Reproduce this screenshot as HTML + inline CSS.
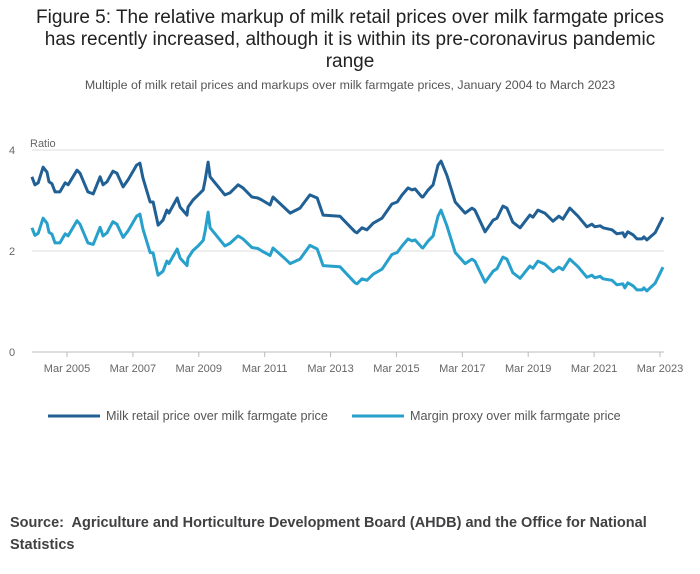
<!DOCTYPE html>
<html><head><meta charset="utf-8"><style>
body{margin:0;background:#fff;font-family:"Liberation Sans",sans-serif;}
#wrap{position:relative;width:700px;height:574px;overflow:hidden;}
.t{position:absolute;left:0;width:700px;text-align:center;color:#222;font-size:19px;}
</style></head><body>
<div id="wrap">
<div class="t" style="top:7px">Figure 5: The relative markup of milk retail prices over milk farmgate prices<br>has recently increased, although it is within its pre-coronavirus pandemic<br>range</div>
<div style="position:absolute;top:78px;left:0;width:700px;text-align:center;font-size:12.4px;color:#555">Multiple of milk retail prices and markups over milk farmgate prices, January 2004 to March 2023</div>
<svg id="chart" width="700" height="460" style="position:absolute;top:0;left:0"></svg>
<div style="position:absolute;left:10px;top:512px;font-size:14.5px;font-weight:bold;color:#414042;line-height:22px">Source:&nbsp; Agriculture and Horticulture Development Board (AHDB) and the Office for National<br>Statistics</div>
</div>
<script>
const dates=[2004.10,2004.19,2004.29,2004.44,2004.56,2004.62,2004.71,2004.80,2004.95,2005.11,2005.20,2005.47,2005.56,2005.80,2005.96,2006.17,2006.26,2006.38,2006.56,2006.68,2006.87,2007.02,2007.28,2007.38,2007.47,2007.69,2007.78,2007.90,2007.93,2008.08,2008.20,2008.26,2008.51,2008.60,2008.81,2008.84,2008.99,2009.15,2009.30,2009.36,2009.45,2009.51,2009.66,2009.96,2010.11,2010.36,2010.51,2010.78,2010.96,2011.08,2011.33,2011.42,2011.78,2011.94,2012.24,2012.54,2012.76,2012.94,2013.45,2013.91,2013.97,2014.12,2014.27,2014.46,2014.73,2015.03,2015.19,2015.34,2015.52,2015.64,2015.73,2015.94,2015.97,2016.13,2016.28,2016.43,2016.52,2016.70,2016.95,2017.25,2017.46,2017.55,2017.86,2018.10,2018.22,2018.40,2018.52,2018.70,2018.92,2019.22,2019.31,2019.46,2019.67,2019.92,2020.10,2020.22,2020.43,2020.68,2020.95,2021.10,2021.19,2021.35,2021.44,2021.71,2021.86,2022.04,2022.10,2022.19,2022.35,2022.47,2022.62,2022.68,2022.77,2023.02,2023.26];
const retail=[3.47,3.31,3.35,3.66,3.56,3.37,3.33,3.17,3.17,3.35,3.31,3.60,3.54,3.17,3.13,3.47,3.31,3.37,3.58,3.54,3.27,3.41,3.70,3.74,3.45,2.97,2.97,2.61,2.51,2.61,2.81,2.75,3.05,2.87,2.71,2.87,3.01,3.11,3.21,3.41,3.76,3.47,3.35,3.11,3.15,3.31,3.25,3.07,3.05,3.01,2.91,3.07,2.85,2.75,2.85,3.11,3.05,2.71,2.69,2.38,2.36,2.46,2.42,2.55,2.65,2.93,2.97,3.11,3.25,3.21,3.23,3.07,3.07,3.21,3.31,3.70,3.78,3.50,2.97,2.75,2.85,2.81,2.38,2.61,2.65,2.89,2.85,2.57,2.46,2.71,2.67,2.81,2.75,2.59,2.69,2.63,2.85,2.69,2.48,2.53,2.48,2.50,2.46,2.42,2.34,2.36,2.28,2.38,2.32,2.24,2.24,2.28,2.22,2.36,2.67];
const margin=[2.46,2.31,2.35,2.65,2.55,2.37,2.33,2.16,2.16,2.34,2.30,2.60,2.53,2.16,2.13,2.47,2.30,2.36,2.58,2.53,2.27,2.40,2.69,2.73,2.44,1.97,1.96,1.60,1.52,1.60,1.80,1.75,2.04,1.86,1.71,1.86,2.01,2.10,2.21,2.40,2.77,2.46,2.34,2.10,2.15,2.30,2.24,2.07,2.05,2.00,1.91,2.06,1.85,1.75,1.84,2.11,2.04,1.71,1.69,1.37,1.35,1.45,1.42,1.54,1.64,1.93,1.97,2.10,2.24,2.20,2.22,2.07,2.06,2.20,2.30,2.69,2.81,2.50,1.97,1.75,1.84,1.80,1.38,1.60,1.65,1.88,1.84,1.57,1.46,1.70,1.66,1.80,1.74,1.59,1.68,1.63,1.84,1.69,1.48,1.52,1.47,1.50,1.45,1.42,1.33,1.35,1.27,1.37,1.31,1.23,1.23,1.27,1.21,1.36,1.68];
const yTicks=[0,2,4];
const xTickLabels=["Mar 2005","Mar 2007","Mar 2009","Mar 2011","Mar 2013","Mar 2015","Mar 2017","Mar 2019","Mar 2021","Mar 2023"];
const xTickYears=[2005.167,2007.167,2009.167,2011.167,2013.167,2015.167,2017.167,2019.167,2021.167,2023.167];

const NS="http://www.w3.org/2000/svg";
const svg=document.getElementById('chart');
const X=t=>28.6+(t-2004)*32.94;
const Y=v=>352-v*50.5;
function mk(tag,attrs){const e=document.createElementNS(NS,tag);for(const k in attrs)e.setAttribute(k,attrs[k]);svg.appendChild(e);return e;}
yTicks.forEach(v=>{
  const g=mk('line',{x1:32,x2:664,y1:Y(v),y2:Y(v),stroke:v===0?'#bbb':'#ddd','stroke-width':1});
  
  
  const t=mk('text',{x:12,y:Y(v)+4,'font-size':11,fill:'#666','text-anchor':'middle'});
  t.textContent=v;
  
  
});
const rt=mk('text',{x:30,y:147,'font-size':11,fill:'#666'});rt.textContent='Ratio';


xTickYears.forEach((t,i)=>{
  const x=X(t);
  const tk=mk('line',{x1:x,x2:x,y1:352,y2:357,stroke:'#bbb'});
  
  
  const lb=mk('text',{x:x,y:372,'font-size':11,fill:'#666','text-anchor':'middle'});
  lb.textContent=xTickLabels[i];
  
  
});
function line(vals,color,name){
  const d=vals.map((v,i)=>(i?'L':'M')+X(dates[i]).toFixed(1)+','+Y(v).toFixed(1)).join('');
  const p=mk('path',{d:d,fill:'none',stroke:color,'stroke-width':3,'stroke-linejoin':'round'});
  
  
}
line(margin,'#27a0cc','margin-proxy-line');
line(retail,'#206095','milk-retail-line');
function legend(x,color,label,name){
  const l=mk('line',{x1:x,x2:x+52,y1:416,y2:416,stroke:color,'stroke-width':3});
  
  
  const t=mk('text',{x:x+58,y:420,'font-size':12.6,fill:'#555'});
  t.textContent=label;
  
  
}
legend(48,'#206095','Milk retail price over milk farmgate price','legend-entry-retail');
legend(352,'#27a0cc','Margin proxy over milk farmgate price','legend-entry-margin');
</script>
</body></html>
